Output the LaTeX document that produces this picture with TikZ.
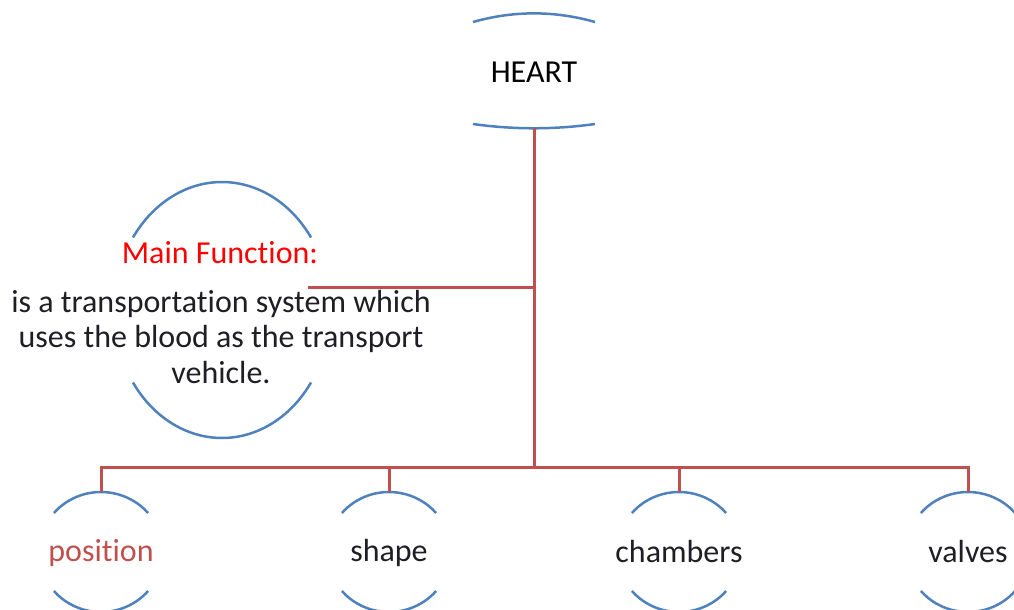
\documentclass[tikz,border=0pt]{standalone}
\usepackage{fontspec}
\setmainfont{Carlito}[Ligatures=NoCommon]
\usetikzlibrary{shapes.geometric}
\definecolor{arcblue}{RGB}{79,129,189}
\definecolor{linered}{RGB}{192,80,77}
\definecolor{txt}{RGB}{30,30,36}
\begin{document}
\begin{tikzpicture}[x=1pt,y=-1pt,
  oval/.style={ellipse,draw=none,inner sep=0pt},
  arcline/.style={draw=arcblue,line width=2.5pt},
  conn/.style={draw=linered,line width=3pt},
  lbl/.style={font=\fontsize{32}{36}\selectfont,text=txt}]
\useasboundingbox (0,0) rectangle (1014,610);
% HEART
\node[oval,minimum width=226pt,minimum height=115pt] (heart) at (534,70.5) {};
\node[lbl,text=black] (heartlbl) at (534,72) {HEART};
\draw[arcline] (473,22) .. controls (513.7,10.5) and (554.3,10.5) .. (595,22);
\draw[arcline] (473,124) .. controls (513.7,129.7) and (554.3,129.7) .. (595,124);
% Main function
\node[oval,minimum width=216pt,minimum height=256pt] (mf) at (222,310) {};
\draw[arcline] ([shift={(214.5:108 and 128)}]mf.center) arc[start angle=214.5,end angle=325.5,x radius=108,y radius=128];
\draw[arcline] ([shift={(34.5:108 and 128)}]mf.center) arc[start angle=34.5,end angle=145.5,x radius=108,y radius=128];
\node[lbl,text=red] (mftitle) at (220,253) {Main Function:};
\node[lbl,align=center,font=\fontsize{32}{35.5}\selectfont] (mfbody) at (221,337) {is a transportation system which\\uses the blood as the transport\\vehicle.};
% bottom nodes
\foreach \n/\x in {pos/101,shp/389,cham/679,valv/968}{
  \node[oval,minimum width=124pt,minimum height=120pt] (\n) at (\x,552) {};
  \draw[arcline] ([shift={(220.5:62 and 60)}]\n.center) arc[start angle=220.5,end angle=319.5,x radius=62,y radius=60];
  \draw[arcline] ([shift={(40.5:62 and 60)}]\n.center) arc[start angle=40.5,end angle=139.5,x radius=62,y radius=60];
}
\node[lbl,text=linered] (poslbl) at (101,553) {position};
\node[lbl] (shplbl) at (389,553) {shape};
\node[lbl] (chamlbl) at (679,552) {chambers};
\node[lbl] (valvlbl) at (968,552) {valves};
% connectors
\coordinate (j1) at (534,287);
\coordinate (bus) at (534,467);
\coordinate (mfend) at (308,287);
\draw[conn] (heart.south) -- (bus);
\draw[conn] (mfend) -- (j1);
\draw[conn] (pos.north) |- (bus) -| (valv.north);
\draw[conn] (shp.north) -- (shp.north |- bus);
\draw[conn] (cham.north) -- (cham.north |- bus);
\end{tikzpicture}
\end{document}
